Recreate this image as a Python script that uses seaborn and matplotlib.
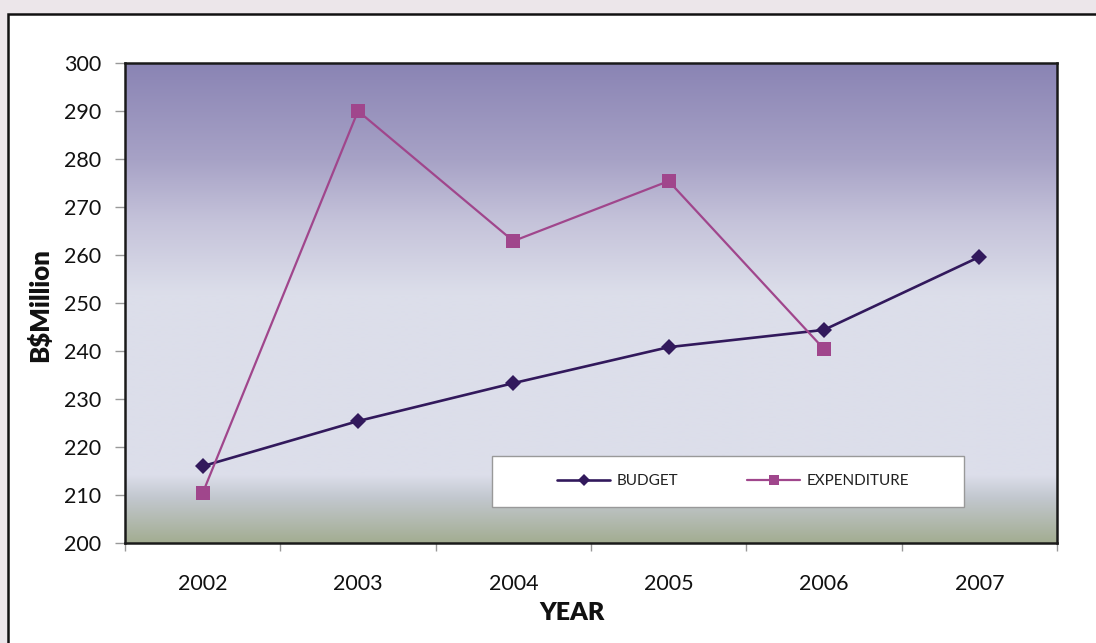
import numpy as np
import pandas as pd
import matplotlib
matplotlib.use("Agg")
import matplotlib.pyplot as plt
import seaborn as sns
from matplotlib.colors import LinearSegmentedColormap
from matplotlib.patches import Rectangle

years = ["2002", "2003", "2004", "2005", "2006", "2007"]
budget = [216.0, 225.4, 233.3, 240.8, 244.4, 259.6]
expenditure = [210.4, 290.0, 262.9, 275.4, 240.4, np.nan]
series_names = ["BUDGET", "EXPENDITURE"]
y_ticks = [200, 210, 220, 230, 240, 250, 260, 270, 280, 290, 300]

sns.set_theme(style="white")
plt.rcParams['font.family'] = ['Lato', 'DejaVu Sans']

df = pd.DataFrame({"pos": np.arange(len(years)), "year": years,
                   "BUDGET": budget, "EXPENDITURE": expenditure})

fig = plt.figure(figsize=(10.96, 6.43), dpi=100)
fig.patch.set_facecolor("#ece6ea")
W, H = 1096, 643
# outer white panel
fig.patches.append(Rectangle((8 / W, -0.05), 1.2, (H - 14) / H + 0.05,
                             transform=fig.transFigure, facecolor="white",
                             edgecolor="#111111", linewidth=1.8, zorder=-10))

ax = fig.add_axes([125 / W, (H - 543) / H, (1057 - 125) / W, 480 / H])
ax.set_zorder(1)

# gradient background
cmap = LinearSegmentedColormap.from_list("bg", [
    (0.0, "#8a84b4"), (0.2, "#a7a2c6"), (0.33, "#c5c3da"), (0.48, "#dcdeea"),
    (0.86, "#dcdeea"), (0.905, "#c3c8d0"), (1.0, "#a3ad92")])
grad = np.linspace(0, 1, 256).reshape(-1, 1)
ax.imshow(grad, cmap=cmap, extent=(-0.5, len(years) - 0.5, 200, 300),
          aspect="auto", origin="upper", zorder=0, interpolation="bilinear")

sns.lineplot(data=df, x="pos", y="BUDGET", ax=ax, color="#32195c", linewidth=1.9,
             marker="D", markersize=8, markeredgewidth=0, label="BUDGET", zorder=3)
sns.lineplot(data=df.dropna(), x="pos", y="EXPENDITURE", ax=ax, color="#a0468c",
             linewidth=1.6, marker="s", markersize=9.5, markeredgewidth=0,
             label="EXPENDITURE", zorder=4)

ax.set_xlim(-0.5, len(years) - 0.5)
ax.set_ylim(200, 300)
ax.set_yticks(y_ticks)
ax.set_yticklabels([str(v) for v in y_ticks])
ax.set_xticks(np.arange(len(years)))
ax.set_xticklabels(years)
ax.set_xticks(np.arange(len(years) + 1) - 0.5, minor=True)
ax.tick_params(axis="x", which="major", length=0, pad=22, labelsize=15.5, labelcolor="#111111")
ax.tick_params(axis="x", which="minor", length=6, width=1, color="#999999", bottom=True)
ax.tick_params(axis="y", which="major", length=7, width=1, color="#999999", left=True,
               pad=10, labelsize=15.5, labelcolor="#111111")

for s in ax.spines.values():
    s.set_visible(True)
    s.set_color("#1a1a1a")
    s.set_linewidth(1.8)

ax.set_xlabel("YEAR", fontsize=18, fontweight="heavy", color="#111111")
ax.set_ylabel("B$Million", fontsize=18.5, fontweight="heavy", color="#111111")
ax.xaxis.set_label_coords(0.48, -0.122)
ax.yaxis.set_label_coords(-0.078, 0.495)

# legend box
ax.add_patch(Rectangle(((492 - 125) / 932, (543 - 507) / 480), (964 - 492) / 932, 51 / 480,
                       transform=ax.transAxes, facecolor="white", edgecolor="#999999",
                       linewidth=1, zorder=5))
leg = ax.legend(loc="center", bbox_to_anchor=((733 - 125) / 932, (543 - 481) / 480),
                ncol=2, frameon=False, fontsize=11, handlelength=3.5,
                handletextpad=0.4, columnspacing=4.5, markerscale=0.75)
leg.set_zorder(6)
for t in leg.get_texts():
    t.set_color("#222222")

fig.savefig("out.png", dpi=100, facecolor=fig.get_facecolor())
